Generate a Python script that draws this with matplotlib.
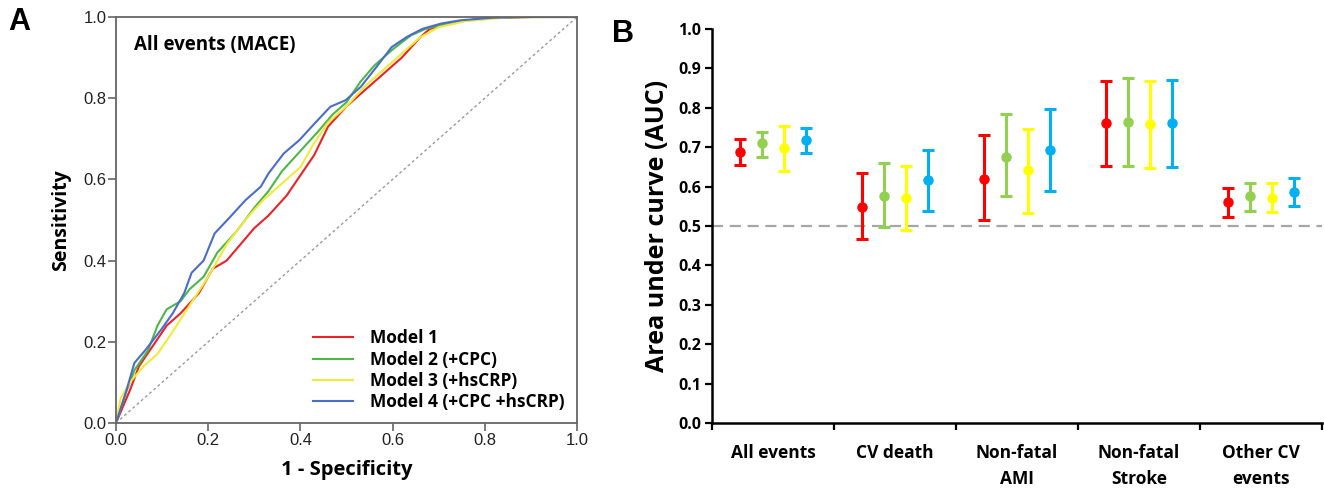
import matplotlib
matplotlib.use('Agg')
from matplotlib import pyplot as plt

# ---------------- panel A : ROC curves ----------------
fprModel1 = [0.0, 0.015, 0.03, 0.05, 0.08, 0.11, 0.14, 0.18, 0.21, 0.24, 0.27, 0.30, 0.33,
             0.37, 0.40, 0.43, 0.46, 0.50, 0.54, 0.58, 0.62, 0.66, 0.68, 0.72, 0.80, 0.90, 1.0]
tprModel1 = [0.0, 0.04, 0.08, 0.14, 0.19, 0.24, 0.27, 0.32, 0.38, 0.40, 0.44, 0.48, 0.51,
             0.56, 0.61, 0.66, 0.73, 0.78, 0.82, 0.86, 0.90, 0.95, 0.97, 0.985, 0.997, 1.0, 1.0]

fprModel2 = [0.0, 0.02, 0.04, 0.07, 0.09, 0.11, 0.14, 0.16, 0.19, 0.22, 0.26, 0.30, 0.33,
             0.36, 0.40, 0.44, 0.47, 0.50, 0.53, 0.56, 0.60, 0.64, 0.67, 0.72, 0.80, 0.90, 1.0]
tprModel2 = [0.0, 0.07, 0.13, 0.18, 0.24, 0.28, 0.30, 0.33, 0.36, 0.42, 0.47, 0.53, 0.57,
             0.62, 0.67, 0.72, 0.76, 0.79, 0.84, 0.88, 0.92, 0.955, 0.97, 0.985, 0.997, 1.0, 1.0]

fprModel3 = [0.0, 0.01, 0.03, 0.06, 0.09, 0.12, 0.16, 0.20, 0.24, 0.28, 0.32, 0.36, 0.40,
             0.43, 0.46, 0.50, 0.54, 0.58, 0.62, 0.66, 0.70, 0.76, 0.85, 0.93, 1.0]
tprModel3 = [0.0, 0.06, 0.10, 0.14, 0.17, 0.22, 0.29, 0.36, 0.44, 0.50, 0.55, 0.59, 0.63,
             0.69, 0.74, 0.78, 0.83, 0.87, 0.91, 0.95, 0.975, 0.99, 0.999, 1.0, 1.0]

fprModel4 = [0.0, 0.02, 0.04, 0.064, 0.098, 0.123, 0.148, 0.164, 0.19, 0.214, 0.248, 0.281,
             0.314, 0.331, 0.364, 0.398, 0.431, 0.465, 0.498, 0.531, 0.565, 0.598, 0.631,
             0.665, 0.706, 0.748, 0.815, 0.88, 1.0]
tprModel4 = [0.0, 0.07, 0.148, 0.18, 0.23, 0.27, 0.32, 0.37, 0.40, 0.467, 0.508, 0.549,
             0.582, 0.615, 0.664, 0.697, 0.738, 0.779, 0.795, 0.828, 0.877, 0.926, 0.951,
             0.971, 0.984, 0.992, 0.998, 1.0, 1.0]

modelNames = ['Model 1', 'Model 2 (+CPC)', 'Model 3 (+hsCRP)', 'Model 4 (+CPC +hsCRP)']

# ---------------- panel B : AUC with 95% CI ----------------
eventNames = ['All events', 'CV death', 'Non-fatal\nAMI', 'Non-fatal\nStroke', 'Other CV\nevents']

aucModel1 = [0.689, 0.548, 0.619, 0.761, 0.560]
lowModel1 = [0.655, 0.466, 0.514, 0.653, 0.523]
highModel1 = [0.722, 0.634, 0.731, 0.869, 0.596]

aucModel2 = [0.710, 0.577, 0.675, 0.764, 0.575]
lowModel2 = [0.675, 0.498, 0.577, 0.653, 0.539]
highModel2 = [0.739, 0.661, 0.785, 0.875, 0.610]

aucModel3 = [0.697, 0.571, 0.643, 0.759, 0.572]
lowModel3 = [0.640, 0.491, 0.532, 0.647, 0.536]
highModel3 = [0.753, 0.653, 0.747, 0.869, 0.608]

aucModel4 = [0.718, 0.617, 0.692, 0.762, 0.586]
lowModel4 = [0.685, 0.539, 0.589, 0.649, 0.550]
highModel4 = [0.748, 0.694, 0.797, 0.871, 0.621]

rocColors = ['#ec2227', '#4cb748', '#f2ea3a', '#4a6dc9']
aucColors = ['#ff0000', '#92d050', '#ffff00', '#00b0f0']
offsets = [-0.274, -0.091, 0.091, 0.274]

boldFont = 'Open Sans'

fig = plt.figure(figsize=(13.24, 4.90), dpi=100)

# ------------------------------- panel A -------------------------------
axA = fig.add_axes([0.0876, 0.1367, 0.3482, 0.8286])
rocData = [(fprModel1, tprModel1), (fprModel2, tprModel2),
           (fprModel3, tprModel3), (fprModel4, tprModel4)]
for (fpr, tpr), color, name in zip(rocData, rocColors, modelNames):
    axA.plot(fpr, tpr, color=color, linewidth=1.5, label=name)
axA.plot([0, 1], [0, 1], color='#999999', linestyle=(0, (2, 2)), linewidth=1.0)

axA.set_xlim(0, 1)
axA.set_ylim(0, 1)
axA.set_xticks([0, 0.2, 0.4, 0.6, 0.8, 1.0])
axA.set_yticks([0, 0.2, 0.4, 0.6, 0.8, 1.0])
axA.set_xticklabels(['0.0', '0.2', '0.4', '0.6', '0.8', '1.0'])
axA.set_yticklabels(['0.0', '0.2', '0.4', '0.6', '0.8', '1.0'])
for spine in axA.spines.values():
    spine.set_color('#666666')
    spine.set_linewidth(1.3)
axA.tick_params(direction='out', length=6, width=1.2, color='#666666',
                labelsize=12, pad=1, labelcolor='#222222')
for lbl in axA.get_xticklabels() + axA.get_yticklabels():
    lbl.set_family('Liberation Sans')

axA.set_xlabel('1 - Specificity', fontfamily=boldFont, fontweight='bold', fontsize=14.5, labelpad=9)
axA.set_ylabel('Sensitivity', fontfamily=boldFont, fontweight='bold', fontsize=14, labelpad=9)
axA.text(0.04, 0.93, 'All events (MACE)', transform=axA.transAxes, fontfamily=boldFont,
         fontweight='bold', fontsize=13.5, va='center', ha='left')

leg = axA.legend(loc='lower right', frameon=False, prop={'family': boldFont, 'weight': 'bold', 'size': 12.5},
                 handlelength=2.3, handletextpad=1.0, labelspacing=0.18, borderaxespad=0.3)

fig.text(0.006, 0.955, 'A', fontsize=22, fontweight='bold', fontfamily='Liberation Sans', va='center')

# ------------------------------- panel B -------------------------------
axB = fig.add_axes([0.5378, 0.1367, 0.4607, 0.8041])
aucData = [(aucModel1, lowModel1, highModel1), (aucModel2, lowModel2, highModel2),
           (aucModel3, lowModel3, highModel3), (aucModel4, lowModel4, highModel4)]
axB.axhline(0.5, color='#a6a6a6', linestyle=(0, (5, 3)), linewidth=1.6, zorder=1)
for (auc, low, high), color, off in zip(aucData, aucColors, offsets):
    xs = [i + 0.5 + off for i in range(len(eventNames))]
    errLow = [a - l for a, l in zip(auc, low)]
    errHigh = [h - a for a, h in zip(auc, high)]
    axB.errorbar(xs, auc, yerr=[errLow, errHigh], fmt='o', color=color, ecolor=color,
                 markersize=6.5, elinewidth=2.2, capsize=4, capthick=2.2, zorder=3)

axB.set_xlim(0, len(eventNames))
axB.set_ylim(0, 1.0)
axB.set_yticks([i / 10 for i in range(11)])
axB.set_yticklabels(['%.1f' % (i / 10) for i in range(11)])
axB.set_xticks(range(len(eventNames) + 1))
axB.set_xticklabels([])
axB.set_xticks([i + 0.5 for i in range(len(eventNames))], minor=True)
axB.set_xticklabels(eventNames, minor=True)
axB.tick_params(axis='x', which='major', direction='out', length=5, width=1.6)
axB.tick_params(axis='x', which='minor', length=0, pad=15)
axB.tick_params(axis='y', direction='out', length=5, width=1.6, pad=3)
for lbl in axB.get_xticklabels(minor=True):
    lbl.set_family(boldFont)
    lbl.set_fontweight('bold')
    lbl.set_fontsize(12.5)
    lbl.set_linespacing(1.6)
for lbl in axB.get_yticklabels():
    lbl.set_family(boldFont)
    lbl.set_fontweight('bold')
    lbl.set_fontsize(11.5)
axB.spines['top'].set_visible(False)
axB.spines['right'].set_visible(False)
axB.spines['left'].set_linewidth(1.8)
axB.spines['bottom'].set_linewidth(1.8)
axB.set_ylabel('Area under curve (AUC)', fontfamily=boldFont, fontweight='bold', fontsize=18, labelpad=6)

fig.text(0.462, 0.93, 'B', fontsize=22, fontweight='bold', fontfamily='Liberation Sans', va='center')

fig.savefig('out.png', dpi=100)
